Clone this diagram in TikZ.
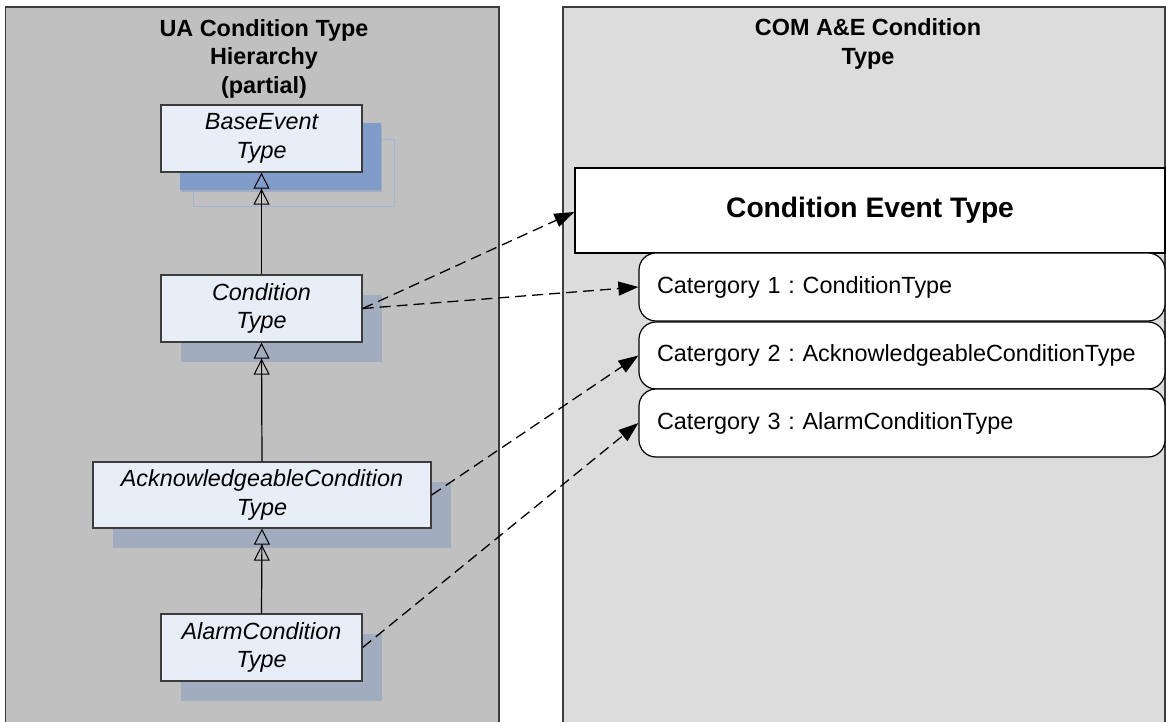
\documentclass[tikz,border=0pt]{standalone}
\usepackage{fontspec}
\setmainfont{Liberation Sans}
\usetikzlibrary{arrows.meta,shadows}
\definecolor{leftfill}{RGB}{192,192,192}
\definecolor{rightfill}{RGB}{220,220,220}
\definecolor{nodefill}{RGB}{232,238,248}
\definecolor{shadowgray}{RGB}{161,172,191}
\definecolor{shadowblue}{RGB}{127,157,200}
\definecolor{outlineblue}{RGB}{160,180,215}
\definecolor{bordergray}{RGB}{60,60,60}
\tikzset{
  panel/.style={draw=bordergray, line width=1.3pt},
  paneltitle/.style={font=\fontsize{23.4}{28.5}\selectfont\bfseries, align=center, inner sep=0pt},
  typebox/.style={draw=bordergray, line width=1.3pt, fill=nodefill, minimum height=67pt, inner sep=0pt,
     align=center, font=\fontsize{23.4}{28.5}\selectfont\itshape,
     drop shadow={shadow xshift=20pt, shadow yshift=-20pt, fill=shadowgray, opacity=1}},
  basebox/.style={typebox, drop shadow={shadow xshift=19pt, shadow yshift=-18pt, fill=shadowblue, opacity=1}},
  catbox/.style={draw=black, line width=1.2pt, fill=white, rounded corners=17pt, minimum width=526pt,
     minimum height=68pt, text width=490pt, inner xsep=18pt, align=left, font=\fontsize{23.4}{28}\selectfont},
  gen/.style={line width=1.2pt, -{Triangle[open,length=16pt,width=16pt,line width=1pt,sep=0pt]Triangle[open,length=16pt,width=16pt,line width=1pt]}},
  mapto/.style={line width=1.3pt, dash pattern=on 11pt off 6pt, -{Triangle[length=20pt,width=14pt]}}
}
\begin{document}
\frenchspacing
\begin{tikzpicture}[x=1pt,y=-1pt]
\useasboundingbox (0,0) rectangle (1166,722);
\fill[white] (0,0) rectangle (1166,722);
\clip (0,0) rectangle (1166,722);
% panels
\draw[panel, fill=leftfill] (5.5,7) rectangle (499,740);
\draw[panel, fill=rightfill] (563,7) rectangle (1165,740);
\node[paneltitle] (lefttitle) at (264,58.5) {UA Condition Type\\Hierarchy\\(partial)};
\node[paneltitle] (righttitle) at (868,44) {COM A\&E Condition\\Type};
% thin outline behind BaseEvent
\draw[outlineblue, line width=0.9pt] (193,139) rectangle (394,206);
% left type nodes
\node[basebox, minimum width=201pt] (base) at (261.5,138.5) {BaseEvent\\Type};
\node[typebox, minimum width=201pt] (cond) at (261.5,308.5) {Condition\\Type};
\node[typebox, minimum width=338pt, minimum height=66pt] (ack) at (262,495) {AcknowledgeableCondition\\Type};
\node[typebox, minimum width=201pt] (alarm) at (261.5,647.5) {AlarmCondition\\Type};
% right side
\node[draw=black, line width=1.3pt, fill=white, minimum width=590pt, minimum height=85pt, inner sep=0pt,
      font=\fontsize{28.2}{32}\selectfont\bfseries] (cet) at (870,210.5) {Condition Event Type};
\node[catbox] (cat1) at (902,287) {Catergory 1 : ConditionType};
\node[catbox, minimum height=67pt] (cat2) at (902,355.5) {Catergory 2 : AcknowledgeableConditionType};
\node[catbox] (cat3) at (902,423) {Catergory 3 : AlarmConditionType};
% generalization connectors
\draw[gen] (cond.north) -- (base.south);
\draw[gen] (ack.north) -- (cond.south);
\draw[gen] (alarm.north) -- (ack.south);
% mapping connectors
\draw[mapto] (cond.east) -- ([yshift=-1.5pt]cet.west);
\draw[mapto] (cond.east) -- (cat1.west);
\draw[mapto] (ack.east) -- (cat2.west);
\draw[mapto] (alarm.east) -- (cat3.west);
\end{tikzpicture}
\end{document}
